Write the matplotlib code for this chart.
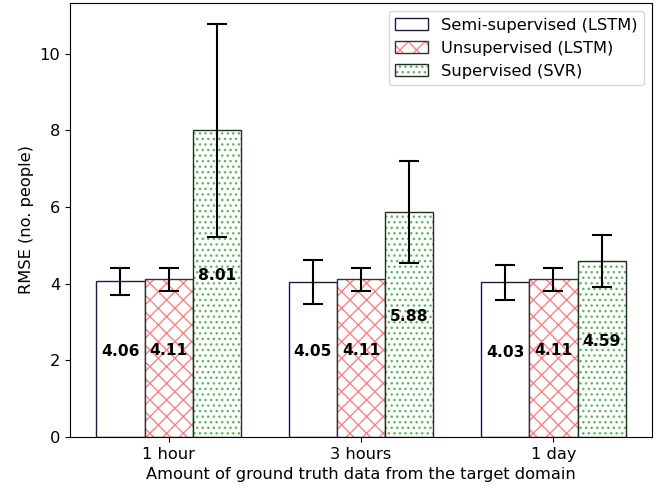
import numpy as np
import matplotlib
matplotlib.use("Agg")
import matplotlib.pyplot as plt
from matplotlib.legend_handler import HandlerTuple

groups = ['1 hour', '3 hours', '1 day']
semi = [4.06, 4.05, 4.03]
semi_err = [0.35, 0.57, 0.45]
unsup = [4.11, 4.11, 4.11]
unsup_err = [0.30, 0.30, 0.30]
svr = [8.01, 5.88, 4.59]
svr_err = [2.78, 1.33, 0.68]

plt.rcParams['font.size'] = 11.7

x = np.arange(len(groups))
w = 0.25

fig, ax = plt.subplots(figsize=(6.6, 4.93), dpi=100)
fig.subplots_adjust(left=0.106, right=0.988, bottom=0.114, top=0.994)

ekw = dict(elinewidth=1.5, capthick=1.5)
# fill/hatch layer then dark outline layer on top
b1 = ax.bar(x - w, semi, w, color='white', edgecolor='#1a1a4a', linewidth=1,
            yerr=semi_err, capsize=7, error_kw=ekw)
h2 = ax.bar(x, unsup, w, color='white', edgecolor='#ff8080', hatch='xx', linewidth=0)
o2 = ax.bar(x, unsup, w, fill=False, edgecolor='#333333', linewidth=1,
            yerr=unsup_err, capsize=7, error_kw=ekw)
h3 = ax.bar(x + w, svr, w, color='white', edgecolor='#5cb85c', hatch='...', linewidth=0)
o3 = ax.bar(x + w, svr, w, fill=False, edgecolor='#1f2f1f', linewidth=1,
            yerr=svr_err, capsize=7, error_kw=ekw)

for xs, vals in [(x - w, semi), (x, unsup), (x + w, svr)]:
    for xi, v in zip(xs, vals):
        ax.text(xi, v / 2, '%.2f' % v, ha='center', va='bottom',
                fontsize=11.2, fontweight='bold')

ax.set_xticks(x)
ax.set_xticklabels(groups)
ax.set_xlabel('Amount of ground truth data from the target domain')
ax.set_ylabel('RMSE (no. people)')

ax.legend([b1, (h2, o2), (h3, o3)],
          ['Semi-supervised (LSTM)', 'Unsupervised (LSTM)', 'Supervised (SVR)'],
          handler_map={tuple: HandlerTuple(ndivide=1)}, loc='upper right')

fig.savefig('out.png')
